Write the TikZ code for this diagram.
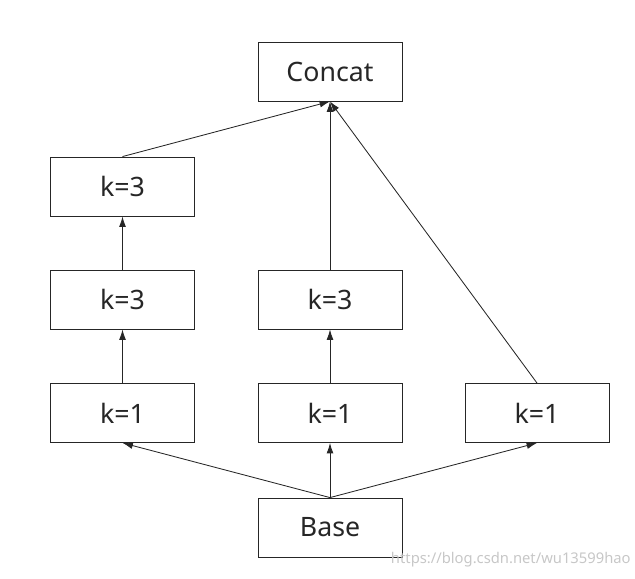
\documentclass[tikz,border=0pt]{standalone}
\usepackage{fontspec}
\setmainfont{Noto Sans}
\usetikzlibrary{arrows.meta}
\begin{document}
\begin{tikzpicture}[x=0.025cm,y=-0.025cm]
                \tikzstyle{layer}=[draw=black!85,line width=0.6pt,minimum width=3.6cm,minimum height=1.475cm,inner sep=0pt,font=\fontsize{19}{22}\selectfont,text=black!85]
                \tikzstyle{link}=[draw=black!85,line width=0.6pt,-{Latex[length=2.6mm,width=1.7mm]}]
                \useasboundingbox (0,0) rectangle (635,578);
                \node [layer] (concat) at (330,71.5) {Concat};
                \node [layer] (l3b) at (122.5,186.5) {k=3};
                \node [layer] (l3a) at (122.5,299.5) {k=3};
                \node [layer] (l1) at (122.5,413) {k=1};
                \node [layer] (m3) at (330,299.5) {k=3};
                \node [layer] (m1) at (330,413) {k=1};
                \node [layer] (r1) at (537,413) {k=1};
                \node [layer] (base) at (330,527.5) {Base};
                \node [anchor=west,text=black!22,font=\fontsize{10.5}{12}\selectfont] (mark) at (386,560) {https://blog.csdn.net/wu13599hao};
                \draw [link] (base.north) -- (l1.south);
                \draw [link] (base.north) -- (m1.south);
                \draw [link] (base.north) -- (r1.south);
                \draw [link] (l1.north) -- (l3a.south);
                \draw [link] (l3a.north) -- (l3b.south);
                \draw [link] (m1.north) -- (m3.south);
                \draw [link] (l3b.north) -- (concat.south);
                \draw [link] (m3.north) -- (concat.south);
                \draw [link] (r1.north) -- (concat.south);
            \end{tikzpicture}
\end{document}
